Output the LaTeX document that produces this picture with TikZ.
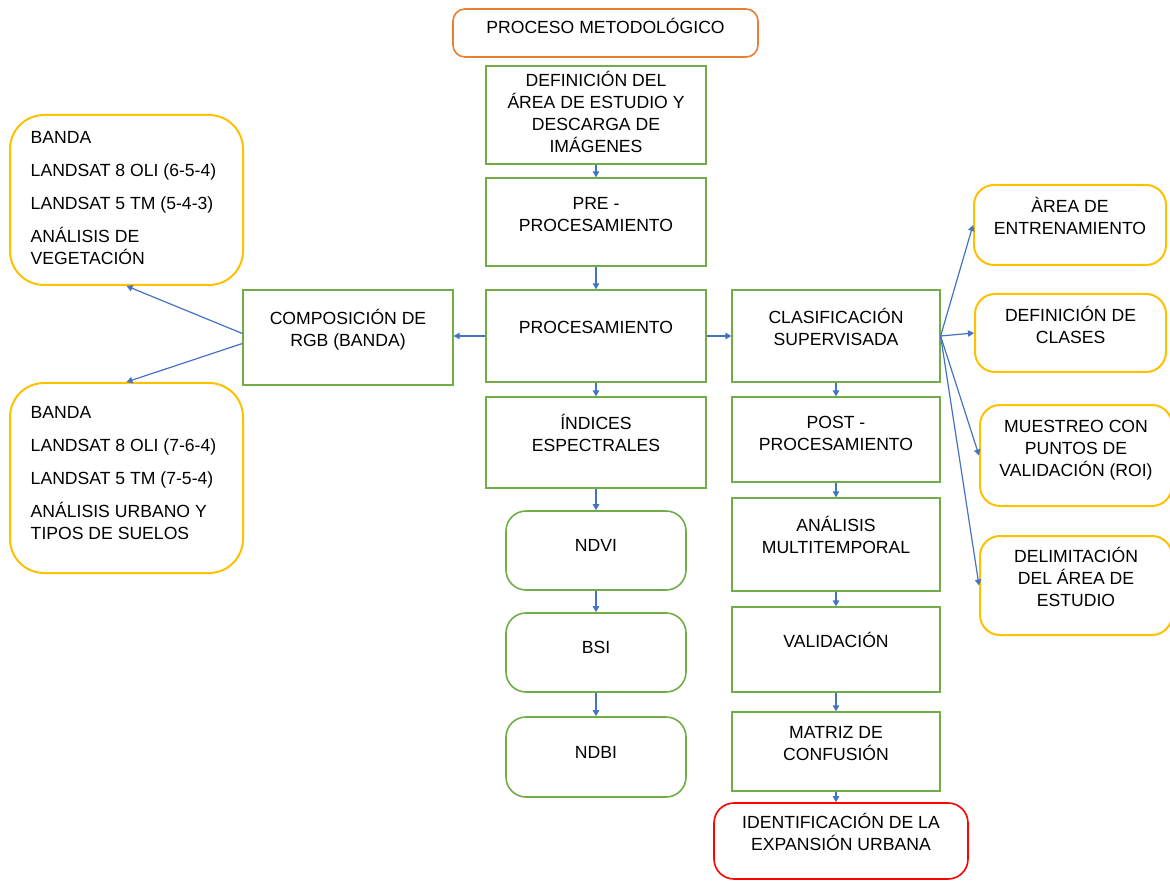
\documentclass[tikz,border=0pt]{standalone}
\usepackage{fontspec}
\setmainfont{Liberation Sans}
\usepackage{xcolor}
\usetikzlibrary{arrows.meta}

\definecolor{ogreen}{HTML}{70AD47}
\definecolor{oyellow}{HTML}{FFC000}
\definecolor{oorange}{HTML}{ED7D31}
\definecolor{ored}{HTML}{FF0000}
\definecolor{oblue}{HTML}{4472C4}

% text set a bit above the middle of its box
\newcommand{\btxt}[2][6pt]{\begin{tabular}{@{}c@{}}#2\\[#1]\end{tabular}}
\newcommand{\ltxt}[2][0pt]{\begin{tabular}{@{}l@{\hspace{3pt}}}#2\\[#1]\end{tabular}}

\begin{document}
\begin{tikzpicture}[
  x=0.5pt,y=-0.5pt,
  font=\fontsize{8.8}{11}\selectfont,
  box/.style={draw=ogreen,line width=0.6pt,inner sep=1pt},
  gbox/.style={box,rounded corners=10pt,line width=0.8pt},
  ybox/.style={draw=oyellow,line width=1pt,inner sep=1pt},
  colA/.style={box,minimum width=110pt},
  colB/.style={box,minimum width=104pt},
  flow/.style={-{Triangle[length=3pt,width=3.2pt]},oblue,line width=0.6pt}
]
\useasboundingbox (0,0) rectangle (1170,881);

\node[draw=oorange,line width=0.8pt,rounded corners=6pt,inner sep=1pt,minimum width=152.5pt,minimum height=24pt] (title) at (605.5,33) {\btxt[4pt]{PROCESO METODOLÓGICO}};

% central column
\node[colA,minimum height=49pt] (def) at (596,115) {\btxt[0pt]{DEFINICIÓN DEL\\ÁREA DE ESTUDIO Y\\DESCARGA DE\\IMÁGENES}};
\node[colA,minimum height=44pt] (pre) at (596,222) {\btxt[5.5pt]{PRE -\\PROCESAMIENTO}};
\node[colA,minimum height=46pt] (proc) at (596,336) {\btxt[7pt]{PROCESAMIENTO}};
\node[colA,minimum height=45.5pt] (ind) at (596,442.5) {\btxt[6.5pt]{ÍNDICES\\ESPECTRALES}};
\node[gbox,minimum width=90pt,minimum height=39.5pt] (ndvi) at (596,550.5) {\btxt[3pt]{NDVI}};
\node[gbox,minimum width=90pt,minimum height=39.5pt] (bsi) at (596,652.5) {\btxt[3.5pt]{BSI}};
\node[gbox,minimum width=90pt,minimum height=40pt] (ndbi) at (596,757) {\btxt[3pt]{NDBI}};

% left side
\node[box,minimum width=105pt,minimum height=47.5pt] (comp) at (348,337.5) {\btxt[6.5pt]{COMPOSICIÓN DE\\RGB (BANDA)}};
\node[ybox,rounded corners=17pt,minimum width=116.5pt,minimum height=85pt] (veg) at (126.5,200) {\ltxt[0pt]{BANDA\\[5.5pt]LANDSAT 8 OLI (6-5-4)\\[5.5pt]LANDSAT 5 TM (5-4-3)\\[5.5pt]ANÁLISIS DE\\VEGETACIÓN}};
\node[ybox,rounded corners=17pt,minimum width=116.5pt,minimum height=95pt] (urb) at (126.5,478) {\ltxt[3pt]{BANDA\\[5.5pt]LANDSAT 8 OLI (7-6-4)\\[5.5pt]LANDSAT 5 TM (7-5-4)\\[5.5pt]ANÁLISIS URBANO Y\\TIPOS DE SUELOS}};

% right column
\node[colB,minimum height=46pt] (clas) at (836,336) {\btxt{CLASIFICACIÓN\\SUPERVISADA}};
\node[colB,minimum height=42.5pt] (post) at (836,439.5) {\btxt[4.5pt]{POST -\\PROCESAMIENTO}};
\node[colB,minimum height=46.5pt] (multi) at (836,544.5) {\btxt{ANÁLISIS\\MULTITEMPORAL}};
\node[colB,minimum height=42.5pt] (valid) at (836,649.5) {\btxt[6.5pt]{VALIDACIÓN}};
\node[colB,minimum height=39.5pt] (matriz) at (836,751.5) {\btxt{MATRIZ DE\\CONFUSIÓN}};
\node[draw=ored,line width=0.8pt,rounded corners=10pt,inner sep=1pt,minimum width=127pt,minimum height=38pt] (ident) at (841,841) {\btxt{IDENTIFICACIÓN DE LA\\EXPANSIÓN URBANA}};

% far right
\node[ybox,rounded corners=10pt,minimum width=96pt,minimum height=40pt] (area) at (1070,225) {\btxt{ÀREA DE\\ENTRENAMIENTO}};
\node[ybox,rounded corners=10pt,minimum width=95.5pt,minimum height=39pt] (clases) at (1070.5,333) {\btxt[5pt]{DEFINICIÓN DE\\CLASES}};
\node[ybox,rounded corners=10pt,minimum width=96pt,minimum height=50.5pt] (muest) at (1076,455.5) {\btxt[5.5pt]{MUESTREO CON\\PUNTOS DE\\VALIDACIÓN (ROI)}};
\node[ybox,rounded corners=10pt,minimum width=96pt,minimum height=49.5pt] (delim) at (1076,585.5) {\btxt[5.5pt]{DELIMITACIÓN\\DEL ÁREA DE\\ESTUDIO}};

% connectors
\draw[flow] (def) -- (pre);
\draw[flow] (pre) -- (proc);
\draw[flow] (proc) -- (ind);
\draw[flow] (ind) -- (ndvi);
\draw[flow] (ndvi) -- (bsi);
\draw[flow] (bsi) -- (ndbi);
\draw[flow] (proc.west) -- (comp.east |- proc.west);
\draw[flow] (proc.east) -- (clas.west);
\draw[flow] ([yshift=2pt]comp.west) -- (veg.south);
\draw[flow] ([yshift=-3pt]comp.west) -- (urb.north);
\draw[flow] (clas.east) -- (area.west);
\draw[flow] (clas.east) -- (clases.west);
\draw[flow] (clas.east) -- (muest.west);
\draw[flow] (clas.east) -- (delim.west);
\draw[flow] (clas) -- (post);
\draw[flow] (post) -- (multi);
\draw[flow] (multi) -- (valid);
\draw[flow] (valid) -- (matriz);
\draw[flow] (matriz) -- (matriz |- ident.north);
\end{tikzpicture}
\end{document}
